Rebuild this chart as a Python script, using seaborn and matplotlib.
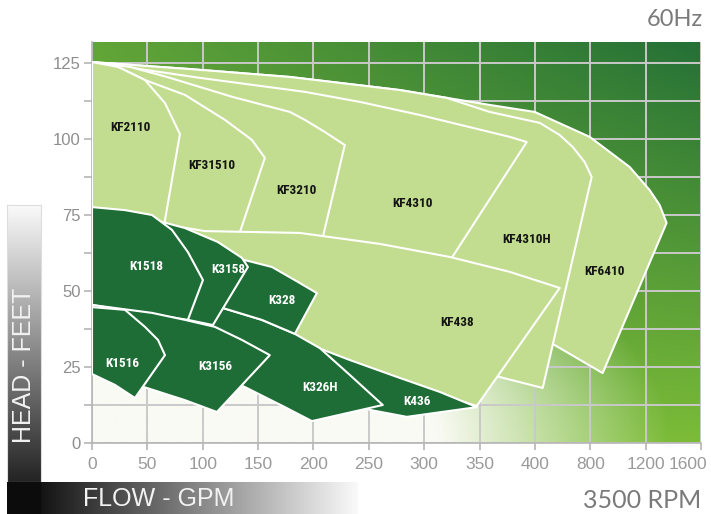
import numpy as np
import pandas as pd
import matplotlib
matplotlib.use("Agg")
import matplotlib.pyplot as plt
from matplotlib.ticker import NullLocator
from matplotlib.transforms import ScaledTranslation
from matplotlib import font_manager as fm
import seaborn as sns

# ---------------- data (flow in GPM, head in feet) ----------------
flow_ticks = [0, 50, 100, 150, 200, 250, 300, 350, 400, 800, 1200, 1600]
head_ticks = [0, 25, 50, 75, 100, 125]

KF6410_flow = [0, 88.4, 178.7, 278.0, 359.2, 399.8, 795.6, 1084.4, 1228.8, 1301.0, 1351.5, 889.5, 543.0, 386.2, 278.0, 52.3, 0]
KF6410_head = [125.3, 123.0, 120.4, 116.1, 111.2, 108.9, 100.7, 90.8, 83.2, 78.3, 72.4, 23.0, 32.2, 37.2, 53.6, 63.5, 63.5]

KF4310H_flow = [0, 88.4, 178.7, 278.0, 320.4, 359.2, 434.7, 579.1, 672.9, 759.5, 810.0, 456.3, 368.2, 341.1, 232.8, 52.3, 0]
KF4310H_head = [125.3, 123.0, 120.4, 116.1, 113.5, 108.9, 105.3, 101.3, 97.4, 92.4, 87.5, 18.1, 21.7, 24.0, 47.0, 63.5, 63.5]

KF4310_flow = [0, 97.5, 192.2, 241.9, 296.0, 341.1, 377.2, 392.6, 324.9, 278.0, 52.3, 0]
KF4310_head = [125.3, 120.1, 115.5, 112.2, 107.9, 103.9, 100.7, 99.0, 60.9, 62.5, 65.1, 65.1]

KF3210_flow = [0, 34.3, 67.7, 127.3, 178.7, 192.2, 210.3, 228.3, 208.5, 187.7, 52.3, 0]
KF3210_head = [125.3, 123.7, 120.4, 113.8, 108.9, 106.3, 102.3, 98.0, 67.8, 65.5, 65.1, 65.1]

KF31510_flow = [0, 23.5, 47.8, 83.9, 120.0, 144.4, 156.1, 133.6, 133.6, 52.3, 0]
KF31510_head = [125.3, 123.7, 119.4, 114.5, 106.3, 99.7, 93.8, 69.4, 66.8, 65.1, 65.1]

KF2110_flow = [0, 23.5, 47.8, 65.9, 79.4, 65.0, 52.3, 0]
KF2110_head = [125.3, 123.7, 119.4, 111.8, 101.6, 71.4, 65.1, 65.1]

KF438_flow = [52.3, 102.0, 187.7, 259.9, 323.1, 377.2, 579.1, 347.5, 305.0, 259.9, 223.8, 187.7, 142.6, 52.3]
KF438_head = [72.7, 69.7, 69.1, 65.5, 61.2, 56.3, 51.0, 12.2, 16.8, 22.7, 26.6, 31.9, 37.2, 47.0]

K436_flow = [187.7, 232.8, 278.0, 314.1, 347.5, 284.3, 250.9, 223.8, 205.8]
K436_head = [33.6, 27.3, 21.4, 16.8, 11.8, 8.6, 10.9, 15.8, 27.3]

K326H_flow = [108.3, 118.2, 153.4, 183.2, 205.8, 232.8, 262.6, 198.6, 174.2, 138.1, 120.0, 106.5]
K326H_head = [42.4, 44.4, 40.5, 35.9, 31.2, 22.4, 12.5, 7.2, 11.8, 18.4, 21.4, 37.2]

K328_flow = [130.0, 162.5, 185.9, 203.1, 183.2, 153.4, 118.2, 117.3]
K328_head = [60.9, 57.9, 53.0, 49.3, 35.9, 40.5, 44.4, 50.3]

K3158_flow = [43.3, 83.9, 113.7, 135.4, 140.8, 109.2, 86.6, 52.3]
K3158_head = [74.7, 70.7, 66.1, 60.9, 57.9, 38.8, 40.5, 47.0]

K1518_flow = [0, 29.8, 54.2, 72.2, 86.6, 100.2, 86.6, 0]
K1518_head = [77.6, 76.6, 75.0, 70.1, 62.8, 53.6, 40.5, 45.4]

K3156_flow = [0, 54.2, 83.9, 111.0, 135.4, 160.6, 112.8, 83.9, 49.6, 25.3, 0]
K3156_head = [45.4, 42.8, 40.5, 38.2, 33.9, 28.9, 10.2, 14.1, 18.1, 20.7, 24.3]

K1516_flow = [0, 29.8, 47.8, 59.6, 65.9, 38.8, 20.8, 0]
K1516_head = [44.7, 43.8, 38.2, 33.9, 28.9, 14.8, 19.1, 22.7]

light_models = ["KF6410", "KF4310H", "KF4310", "KF3210", "KF31510", "KF2110", "KF438"]
dark_models = ["K436", "K326H", "K328", "K3158", "K1518", "K3156", "K1516"]

label_flow = {"KF2110": 34.3, "KF31510": 108.3, "KF3210": 185.0, "KF4310": 289.7,
              "KF4310H": 392.6, "KF6410": 904.0, "KF438": 329.4, "K1518": 48.7,
              "K3158": 122.7, "K328": 171.5, "K1516": 27.1, "K3156": 111.0,
              "K326H": 205.8, "K436": 293.3}
label_head = {"KF2110": 103.9, "KF31510": 91.4, "KF3210": 82.9, "KF4310": 78.9,
              "KF4310H": 66.8, "KF6410": 56.3, "KF438": 39.5, "K1518": 58.2,
              "K3158": 57.2, "K328": 47.0, "K1516": 26.0, "K3156": 25.3,
              "K326H": 18.4, "K436": 13.8}

shapes = {
    "KF6410": (KF6410_flow, KF6410_head), "KF4310H": (KF4310H_flow, KF4310H_head),
    "KF4310": (KF4310_flow, KF4310_head), "KF3210": (KF3210_flow, KF3210_head),
    "KF31510": (KF31510_flow, KF31510_head), "KF2110": (KF2110_flow, KF2110_head),
    "KF438": (KF438_flow, KF438_head), "K436": (K436_flow, K436_head),
    "K326H": (K326H_flow, K326H_head), "K328": (K328_flow, K328_head),
    "K3158": (K3158_flow, K3158_head), "K1518": (K1518_flow, K1518_head),
    "K3156": (K3156_flow, K3156_head), "K1516": (K1516_flow, K1516_head),
}

# ---------------- style ----------------
sns.set_theme(style="white")
avail = {f.name for f in fm.fontManager.ttflist}


def pick(cands, default):
    for c in cands:
        if c in avail:
            return c
    return default


narrow = pick(["Liberation Sans Narrow", "Arial Narrow", "Roboto Condensed", "DejaVu Sans Condensed"], "Liberation Sans")
sans = pick(["Liberation Sans", "Arial"], "DejaVu Sans")
lato = pick(["Lato"], sans)
plt.rcParams["font.family"] = [sans, "DejaVu Sans"]

LIGHT = "#c2dd8f"
DARK = "#1f6d36"

fig = plt.figure(figsize=(7.11, 5.14), dpi=100)
ax = fig.add_axes([92 / 711, 1 - 443 / 514, 609 / 711, 401 / 514])


def fwd(x):
    x = np.asarray(x, dtype=float)
    return np.where(x <= 400, x / 50.0, 8 + (x - 400) / 400.0)


def inv(p):
    p = np.asarray(p, dtype=float)
    return np.where(p <= 8, p * 50.0, 400 + (p - 8) * 400.0)


ax.set_xscale("function", functions=(fwd, inv))

# background gradient (axes-fraction coordinates)
ny, nx = 200, 300
u = np.linspace(0, 1, nx)[None, :]
v = np.linspace(1, 0, ny)[:, None]
s = np.clip(0.3 * v + 0.7 * u * v, 0, 1)
yg = np.array([124, 188, 56]) / 255
dk = np.array([36, 112, 54]) / 255
base = yg * (1 - s[..., None]) + dk * s[..., None]
t = np.sqrt(u ** 2 + (1.4 * v) ** 2)
w = np.clip((0.95 - t) / 0.38, 0, 1)
white = np.array([250, 250, 244]) / 255
img = base * (1 - w[..., None]) + white * w[..., None]
ax.imshow(img, extent=(0, 1, 0, 1), transform=ax.transAxes, aspect="auto",
          zorder=0, interpolation="bilinear")

# polygons
z = 2.0
for name in light_models + dark_models:
    fx, fy = shapes[name]
    fc = LIGHT if name in light_models else DARK
    ax.fill(fx, fy, facecolor=fc, edgecolor="none", zorder=z)
    df = pd.DataFrame({"flow": list(fx) + [fx[0]], "head": list(fy) + [fy[0]]})
    sns.lineplot(data=df, x="flow", y="head", sort=False, estimator=None,
                 color="white", lw=1.5, zorder=z + 0.5, ax=ax, legend=False)
    z += 1.0

for name in light_models + dark_models:
    col = "#141414" if name in light_models else "white"
    ax.text(label_flow[name], label_head[name], name, ha="center", va="center",
            fontsize=9.5, fontweight="bold", family=[narrow, "DejaVu Sans"],
            color=col, zorder=40)

# axes
ax.set_xlim(0, 1600)
ax.set_ylim(0, 131.9)
ax.set_xticks(flow_ticks)
ax.set_xticklabels([str(v_) for v_ in flow_ticks])
ax.xaxis.set_minor_locator(NullLocator())
ax.set_yticks(head_ticks)
ax.set_yticklabels([str(v_) for v_ in head_ticks])
ax.set_yticks(np.arange(0, 131, 12.5), minor=True)
ax.set_xlabel("")
ax.set_ylabel("")
ax.tick_params(axis="x", which="major", bottom=True, length=5, width=1.2,
               color="#b5b5b5", labelsize=12.5, labelcolor="#9a9a9a", pad=5)
ax.tick_params(axis="y", which="both", left=True, length=6, width=1.2,
               color="#b5b5b5", labelsize=12, labelcolor="#8e8e8e", pad=2)
ax.grid(True, which="major", axis="x", color="#c9c9c9", lw=1.4)
ax.grid(True, which="both", axis="y", color="#c9c9c9", lw=1.4)
ax.set_axisbelow(True)
for side in ["top", "right"]:
    ax.spines[side].set_visible(False)
for side in ["left", "bottom"]:
    ax.spines[side].set_color("#b5b5b5")
    ax.spines[side].set_linewidth(1.2)
    ax.spines[side].set_zorder(1)

last = ax.get_xticklabels()[-1]
last.set_horizontalalignment("right")
last.set_transform(last.get_transform() + ScaledTranslation(6 / 100, 0, fig.dpi_scale_trans))

# side bars
vbar = fig.add_axes([7 / 711, 1 - 482 / 514, 34 / 711, (482 - 205) / 514])
g = np.linspace(0.98, 0.14, 256)[:, None]
vbar.imshow(np.dstack([g, g, g]), aspect="auto", extent=(0, 1, 0, 1))
vbar.set_xticks([]); vbar.set_yticks([])
for sp in vbar.spines.values():
    sp.set_color("#dddddd"); sp.set_linewidth(0.8)

hbar = fig.add_axes([7 / 711, 0, 351 / 711, 32 / 514])
xs = np.linspace(0, 351, 400)
gh = np.where(xs < 34, 0.05, 0.08 + (xs - 34) / (351 - 34) * 0.9)[None, :]
hbar.imshow(np.dstack([gh, gh, gh]), aspect="auto", extent=(0, 1, 0, 1))
hbar.set_xticks([]); hbar.set_yticks([])
for sp in hbar.spines.values():
    sp.set_visible(False)

fig.text(24 / 711, 1 - 365 / 514, "HEAD - FEET", rotation=90, ha="center", va="center",
         fontsize=18, color="#f2f2f2")
fig.text(83 / 711, 1 - 499 / 514, "FLOW - GPM", ha="left", va="center",
         fontsize=18, color="#f2f2f2")
fig.text(703 / 711, 1 - 20 / 514, "60Hz", ha="right", va="center",
         fontsize=17, color="#7a7a7a", family=[lato, "DejaVu Sans"])
fig.text(701 / 711, 1 - 501 / 514, "3500 RPM", ha="right", va="center",
         fontsize=18, color="#7a7a7a", family=[lato, "DejaVu Sans"])

fig.savefig("out.png", dpi=100)
